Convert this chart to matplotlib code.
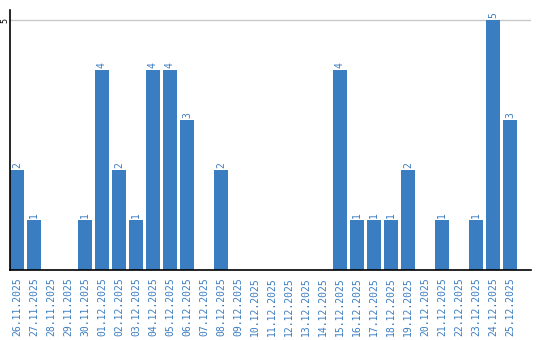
import matplotlib
matplotlib.use("Agg")
import matplotlib.pyplot as plt

dates = ["26.11.2025", "27.11.2025", "28.11.2025", "29.11.2025", "30.11.2025",
         "01.12.2025", "02.12.2025", "03.12.2025", "04.12.2025", "05.12.2025",
         "06.12.2025", "07.12.2025", "08.12.2025", "09.12.2025", "10.12.2025",
         "11.12.2025", "12.12.2025", "13.12.2025", "14.12.2025", "15.12.2025",
         "16.12.2025", "17.12.2025", "18.12.2025", "19.12.2025", "20.12.2025",
         "21.12.2025", "22.12.2025", "23.12.2025", "24.12.2025", "25.12.2025"]
counts = [2, 1, 0, 0, 1, 4, 2, 1, 4, 4, 3, 0, 2, 0, 0, 0, 0, 0, 0, 4,
          1, 1, 1, 2, 0, 1, 0, 1, 5, 3]

blue = "#3b7dc1"
fig = plt.figure(figsize=(5.4, 3.4), dpi=100)
ax = fig.add_axes([10/540, 70/340, 521/540, 260/340])
x = list(range(len(dates)))
ax.bar(x, counts, width=0.82, color=blue, zorder=2)
ax.set_xlim(-0.41, 30.24)
ax.set_ylim(0, 5.2)
ax.set_yticks([5])
ax.set_yticklabels(["5"], rotation=90, fontsize=6, family="DejaVu Sans Mono", va="center")
ax.yaxis.grid(True, color="#c8c8c8", linewidth=1, zorder=0)
ax.tick_params(axis="y", length=0, pad=0.5)
ax.set_xticks(x)
ax.set_xticklabels(dates, rotation=90, fontsize=7, family="DejaVu Sans Mono", color=blue)
ax.tick_params(axis="x", length=0, pad=5)
for s in ["top", "right"]:
    ax.spines[s].set_visible(False)
for s in ["left", "bottom"]:
    ax.spines[s].set_color("black")
    ax.spines[s].set_linewidth(1.2)
for xi, c in zip(x, counts):
    if c > 0:
        ax.text(xi, c + 0.04, str(c), rotation=90, ha="center", va="bottom",
                fontsize=7, family="DejaVu Sans Mono", color=blue)
fig.savefig("out.png", dpi=100)
